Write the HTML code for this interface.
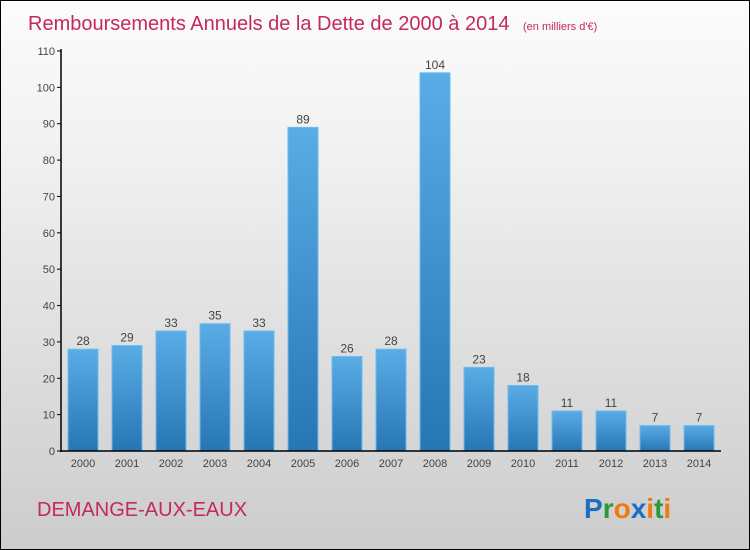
<!DOCTYPE html>
<html><head><meta charset="utf-8"><style>
body{margin:0}
#c{width:750px;height:550px;position:relative;box-sizing:border-box;border:1px solid #000;background:linear-gradient(#fcfcfc,#f2f2f2 25%,#cccccc);font-family:"Liberation Sans",sans-serif;overflow:hidden}
</style></head><body>
<div id="c">
<svg width="750" height="550" style="position:absolute;left:0;top:0" id="svg">
<defs><linearGradient id="g" x1="0" y1="0" x2="0" y2="1"><stop offset="0" stop-color="#5aace6"/><stop offset="1" stop-color="#2676b4"/></linearGradient></defs>
<text x="27" y="29" font-size="20" fill="#c4285e">Remboursements Annuels de la Dette de 2000 à 2014 <tspan font-size="11" dx="8">(en milliers d'€)</tspan></text>
<text x="36" y="515" font-size="20" fill="#c4285e">DEMANGE-AUX-EAUX</text>
<text x="583" y="517" font-size="28" font-weight="bold"><tspan fill="#1a6fc4">P</tspan><tspan fill="#2a9a3a">r</tspan><tspan fill="#f07a10">o</tspan><tspan fill="#1a6fc4">x</tspan><tspan fill="#f07a10">i</tspan><tspan fill="#2a9a3a">t</tspan><tspan fill="#f07a10">i</tspan></text>
</svg>
</div>
<script>
const years=["2000","2001","2002","2003","2004","2005","2006","2007","2008","2009","2010","2011","2012","2013","2014"];
const values=[28,29,33,35,33,89,26,28,104,23,18,11,11,7,7];
const yTicks=[0,10,20,30,40,50,60,70,80,90,100,110];
const svg=document.getElementById('svg');const NS='http://www.w3.org/2000/svg';
const y=v=>450-v*400/110;const x=i=>82+i*44;
function mk(t,a){const e=document.createElementNS(NS,t);for(const k in a)e.setAttribute(k,a[k]);svg.appendChild(e);return e;}
yTicks.forEach(t=>{const l=mk('line',{x1:56,x2:60,y1:y(t),y2:y(t),stroke:'#000'});


const tx=mk('text',{x:54,y:y(t)+4,'text-anchor':'end','font-size':11,fill:'#444'});tx.textContent=t;

});
values.forEach((v,i)=>{const r=mk('rect',{x:x(i)-15,y:y(v),width:30,height:450-y(v),fill:'url(#g)',stroke:'#6cbcf0','stroke-width':1});


const t=mk('text',{x:x(i),y:y(v)-4,'text-anchor':'middle','font-size':12,fill:'#444'});t.textContent=v;


const xl=mk('text',{x:x(i),y:466,'text-anchor':'middle','font-size':11,fill:'#444'});xl.textContent=years[i];

});
const ya=mk('line',{x1:60,x2:60,y1:48,y2:451,stroke:'#000','stroke-width':1.5});


const xa=mk('line',{x1:59,x2:720,y1:450,y2:450,stroke:'#000','stroke-width':1.5});


</script>
</body></html>
